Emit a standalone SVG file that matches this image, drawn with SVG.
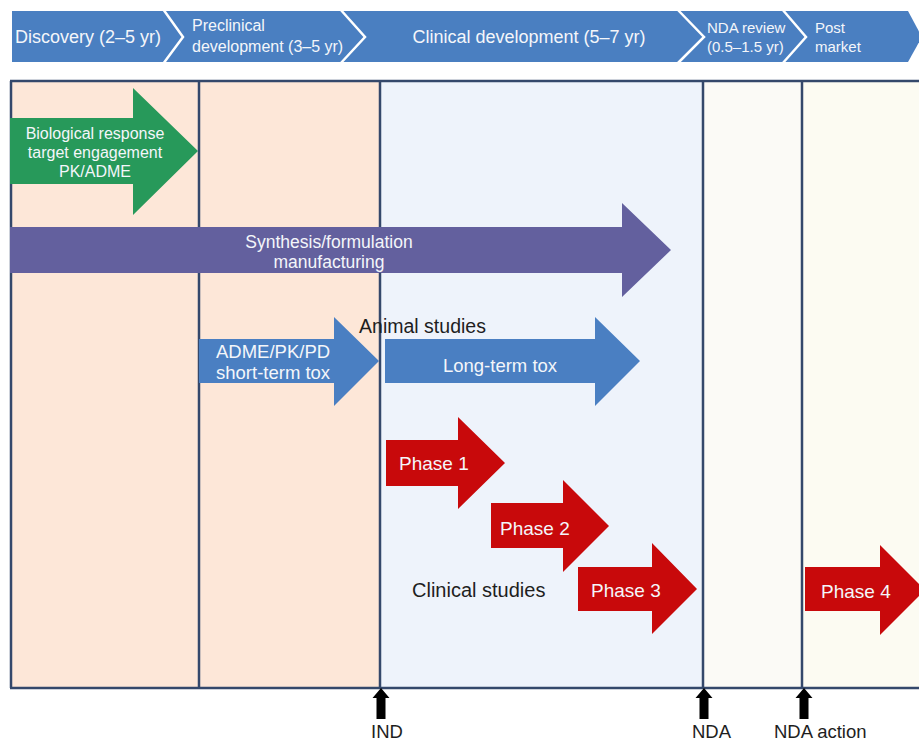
<svg xmlns="http://www.w3.org/2000/svg" width="919" height="744" viewBox="0 0 919 744">
<style>
text{font-family:"Liberation Sans",Arial,Helvetica,sans-serif}
.w{fill:#f4f6fa}
.k{fill:#1e1e1e}
.sep{fill:none;stroke:#ffffff;stroke-width:2.5}
.frame{fill:none;stroke:#34486b;stroke-width:2.5}
.green{fill:#27995a}
.purple{fill:#63609e}
.blue{fill:#4a7fc2}
.red{fill:#c8090b}
.ms{fill:#000}
</style>
<rect width="919" height="744" fill="#ffffff"/>
<g id="banner">
<polygon points="12,11 908,11 922,37 908,62 12,62" fill="#4a7fc1"/>
<polyline class="sep" points="163,9 183,37 163,64"/>
<polyline class="sep" points="340,9 365,37 340,64"/>
<polyline class="sep" points="677,9 704,37 677,64"/>
<polyline class="sep" points="782,9 806,37 782,64"/>
<text class="w" x="15" y="43" font-size="18">Discovery (2–5 yr)</text>
<text class="w" x="192" y="31" font-size="16">Preclinical</text>
<text class="w" x="192" y="52" font-size="16">development (3–5 yr)</text>
<text class="w" x="529" y="43" font-size="18" text-anchor="middle">Clinical development (5–7 yr)</text>
<text class="w" x="707" y="33" font-size="15">NDA review</text>
<text class="w" x="707" y="52" font-size="15">(0.5–1.5 yr)</text>
<text class="w" x="815" y="33" font-size="15">Post</text>
<text class="w" x="815" y="52" font-size="15">market</text>
</g>
<g id="stages">
<rect x="10" y="81" width="370" height="607" fill="#fde7d8"/>
<rect x="380" y="81" width="323" height="607" fill="#eef3fb"/>
<rect x="703" y="81" width="99" height="607" fill="#fbfaf6"/>
<rect x="802" y="81" width="117" height="607" fill="#fcfbf2"/>
<line class="frame" x1="10" y1="81" x2="919" y2="81"/>
<line class="frame" x1="10" y1="688" x2="919" y2="688"/>
<line class="frame" x1="11" y1="81" x2="11" y2="688"/>
<line class="frame" x1="199" y1="81" x2="199" y2="688"/>
<line class="frame" x1="380" y1="81" x2="380" y2="688"/>
<line class="frame" x1="703" y1="81" x2="703" y2="688"/>
<line class="frame" x1="802" y1="81" x2="802" y2="688"/>
</g>
<g id="discovery-arrow">
<path class="green" d="M10,118 H133 V88 L198,151 L133,215 V184 H10 Z"/>
<text class="w" x="95" y="139" font-size="16" text-anchor="middle">Biological response</text>
<text class="w" x="95" y="158" font-size="16" text-anchor="middle">target engagement</text>
<text class="w" x="95" y="177" font-size="16" text-anchor="middle">PK/ADME</text>
</g>
<g id="synthesis-arrow">
<path class="purple" d="M10,227 H622 V203 L671,250 L622,297 V273 H10 Z"/>
<text class="w" x="329" y="248" font-size="17.5" text-anchor="middle">Synthesis/formulation</text>
<text class="w" x="329" y="268" font-size="17.5" text-anchor="middle">manufacturing</text>
</g>
<g id="animal-studies">
<text class="k" x="422.5" y="333" font-size="19.5" text-anchor="middle">Animal studies</text>
</g>
<g id="adme-arrow">
<path class="blue" d="M199,339 H334 V317 L379,361 L334,406 V383 H199 Z"/>
<text class="w" x="216" y="358" font-size="18.5">ADME/PK/PD</text>
<text class="w" x="216" y="379" font-size="18.5">short-term tox</text>
</g>
<g id="longterm-arrow">
<path class="blue" d="M385,339 H595 V317 L640,361 L595,406 V383 H385 Z"/>
<text class="w" x="500" y="372" font-size="18.5" text-anchor="middle">Long-term tox</text>
</g>
<g id="phase1">
<path class="red" d="M386,440 H458 V417 L505,463 L458,509 V486 H386 Z"/>
<text class="w" x="399" y="470" font-size="19">Phase 1</text>
</g>
<g id="phase2">
<path class="red" d="M491,503 H563 V480 L609,526 L563,572 V548 H491 Z"/>
<text class="w" x="500" y="535" font-size="19">Phase 2</text>
</g>
<g id="clinical-studies">
<text class="k" x="412" y="597" font-size="20">Clinical studies</text>
</g>
<g id="phase3">
<path class="red" d="M578,567 H652 V543 L697,589 L652,634 V611 H578 Z"/>
<text class="w" x="591" y="597" font-size="19">Phase 3</text>
</g>
<g id="phase4">
<path class="red" d="M805,567 H880 V545 L925,590 L880,635 V611 H805 Z"/>
<text class="w" x="821" y="598" font-size="19">Phase 4</text>
</g>
<g id="connectors">
<path class="ms" d="M381,688 L389.5,698 H385.5 V719 H376.5 V698 H372.5 Z"/>
<path class="ms" d="M704,688 L712.5,698 H708.5 V719 H699.5 V698 H695.5 Z"/>
<path class="ms" d="M804,688 L812.5,698 H808.5 V719 H799.5 V698 H795.5 Z"/>
</g>
<g id="milestones">
<text class="k" x="371" y="738" font-size="18.5">IND</text>
<text class="k" x="692" y="738" font-size="18.5">NDA</text>
<text class="k" x="774" y="738" font-size="18.5">NDA action</text>
</g>
</svg>
